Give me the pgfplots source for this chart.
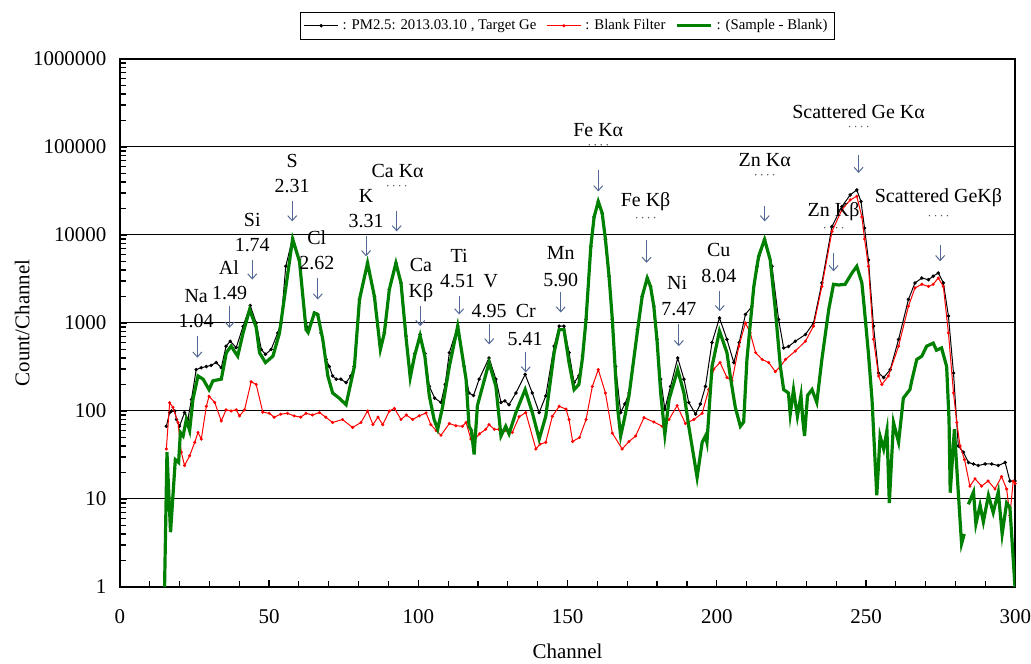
\documentclass[border=0pt]{standalone}
\usepackage{fontspec}
\setmainfont{Liberation Serif}
\usepackage{pgfplots}
\pgfplotsset{compat=1.18}
\usetikzlibrary{arrows.meta}
\definecolor{sgreen}{RGB}{0,128,0}
\definecolor{arrowc}{RGB}{85,105,150}
\tikzset{
  lbl/.style={font=\fontsize{10}{12}\selectfont, inner sep=0pt},
  arr/.style={arrowc, line width=0.5pt, -{Straight Barb[length=2.5pt,width=4.5pt]}},
}
% row of small dots under a label
\newcommand\dotrow[2]{%
  \fill[gray!70!black] ([xshift=-4.5pt]rel axis cs:#1,#2) circle (0.4pt);
  \fill[gray!70!black] ([xshift=-1.5pt]rel axis cs:#1,#2) circle (0.4pt);
  \fill[gray!70!black] ([xshift=1.5pt]rel axis cs:#1,#2) circle (0.4pt);
  \fill[gray!70!black] ([xshift=4.5pt]rel axis cs:#1,#2) circle (0.4pt);
}

\begin{document}
\begin{tikzpicture}
\begin{axis}[name=ax, scale only axis, width=448.5pt, height=264.5pt,
  xmin=0, xmax=300, ymin=1, ymax=1000000, ymode=log,
  xtick={0,50,100,150,200,250,300},
  xticklabels={0,50,100,150,200,250,300},
  minor x tick num=4,
  ytick={1,10,100,1000,10000,100000,1000000},
  yticklabels={1,10,100,1000,10000,100000,1000000},
  minor ytick={2,3,4,5,6,7,8,9,20,30,40,50,60,70,80,90,200,300,400,500,600,700,800,900,
    2000,3000,4000,5000,6000,7000,8000,9000,20000,30000,40000,50000,60000,70000,80000,90000,
    200000,300000,400000,500000,600000,700000,800000,900000},
  ymajorgrids, grid style={black, line width=0.5pt},
  axis line style={line width=0.9pt},
  tick style={black, line width=0.6pt},
  major tick length=3.5pt, minor tick length=3pt,
  xtick pos=left, ytick pos=left,
  tick label style={font=\fontsize{10.5}{12}\selectfont},
  xticklabel style={inner xsep=0pt, yshift=-8pt},
  yticklabel style={inner xsep=0pt, xshift=-6.5pt},
  xlabel={Channel}, ylabel={Count/Channel},
  label style={font=\fontsize{10.5}{12}\selectfont},
  x label style={at={(axis description cs:0.5,-0.122)}, anchor=center, inner sep=0pt},
  y label style={at={(axis description cs:-0.109,0.5)}, anchor=center},
  legend style={at={(0.5,1)}, anchor=south, yshift=9.5pt, legend columns=3,
    draw=black, line width=0.6pt, font=\fontsize{7.4}{9}\selectfont, inner sep=1.5pt,
    /tikz/every even column/.append style={column sep=3pt}},
  legend cell align=left,
  clip mode=individual,
]
\addplot[black, line width=0.5pt, mark=*, mark size=0.6pt] coordinates {
(15.6,67) (16.7,96) (17.3,100) (18.4,100) (19,80) (20,67) (21.7,96) (22.8,80) (24,135) (25.6,295)
(27.3,310) (29,320) (30.6,330) (32.3,355) (34,310) (35.6,545) (37,620) (39,525) (41.3,915) (43.7,1580)
(45.7,1000) (47.4,500) (48.8,440) (50.7,500) (52.9,770) (54,1000) (55.6,4400) (57.9,9200) (60.2,5200) (62.4,1000)
(63.1,860) (65.2,1300) (66.3,1250) (67.4,770) (69.1,385) (70.2,320) (71.3,250) (72.5,230) (74.1,230) (75.8,210)
(77.4,250) (78.5,320) (80.3,1850) (83,4800) (85.3,2000) (87.3,545) (88.6,780) (90.3,2400) (92.5,4800) (94.2,2850)
(95.9,710) (97.3,270) (98.8,450) (100.6,740) (102.2,450) (103.7,190) (105.5,140) (107.6,125) (109,200) (110.4,460)
(113.2,920) (115.4,320) (117,160) (118.5,150) (120.4,230) (123.7,400) (126,230) (127.7,125) (129,130) (130.4,118)
(132.7,160) (135.8,260) (138.2,160) (140.5,96) (142.7,148) (145.5,545) (147.2,920) (148.8,920) (150.5,460) (152.2,210)
(153.8,250) (155,420) (156.2,1100) (157.8,7400) (158.9,16000) (160.3,24000) (161.6,17700) (162.7,8900) (163.9,3400) (165,1100)
(166.1,320) (167.8,96) (169.2,120) (170.6,160) (173.4,840) (175,2000) (176.7,3240) (177.8,2600) (178.9,1550) (180,650)
(181.2,230) (182.6,105) (184.5,190) (186.9,400) (189,230) (190.6,125) (192.9,92) (194.5,120) (196.2,190) (198.4,600)
(200.9,1140) (203.4,650) (205.7,355) (207.5,600) (209.6,1250) (211.8,1550) (213.5,4400) (216,8900) (218.5,4400) (220.7,1100)
(222.4,520) (224,540) (226.3,620) (229.7,740) (232.4,1000) (235.2,2850) (238.6,12500) (241.9,21000) (244.7,28500) (246.9,32500)
(248.3,24000) (249.5,12000) (250.8,5200) (252.5,920) (254.2,270) (255.9,240) (258.1,295) (260.9,650) (264.2,1850) (266.4,2850)
(268.7,3240) (270.9,3100) (272.5,3400) (274.2,3700) (275.9,2850) (277.6,1200) (279.3,270) (280.9,40) (282.6,34) (284.3,26)
(286,25) (287.6,24) (289.9,25) (292.1,25) (294.3,24) (296.6,26) (298.2,16) (299.9,16)
};
\addlegendentry{: PM2.5: 2013.03.10 , Target Ge}
\addplot[red, line width=0.5pt, mark=*, mark size=0.5pt] coordinates {
(15.6,37) (16.7,124) (17.8,110) (19.5,74) (20.6,34) (21.7,24) (23.4,31) (25.1,44) (26.2,57) (27.3,48)
(29,113) (29.9,147) (31.8,125) (34,77) (35.6,103) (37.3,100) (39,103) (40.1,88) (41.8,103) (44,215)
(45.7,200) (47.9,97) (50.1,94) (51.7,85) (53.9,92) (56.2,94) (58.4,88) (60.6,85) (62.4,94) (64.5,90)
(66.9,96) (69,85) (71.3,74) (74.6,80) (78,65) (80.8,74) (83,100) (84.8,70) (86.5,85) (88.1,70)
(90.3,100) (92,107) (94.2,80) (96,90) (98.1,80) (100.3,88) (102.6,95) (104.2,70) (106,60) (107.6,53)
(110.4,72) (112.6,68) (114.8,67) (116,74) (117.6,48) (118.8,47) (120.5,55) (122.6,62) (123.7,70) (125.5,62)
(127,62) (129,60) (131.5,57) (133.8,86) (136,96) (139.4,37) (140.8,42) (142.7,44) (144.9,87) (147.2,113)
(149.5,105) (150.5,80) (151.7,45) (154,50) (156.2,80) (158.3,190) (160.3,295) (162.7,160) (165,56) (168.3,37)
(170.6,45) (172.8,52) (175.6,84) (178.9,75) (181.7,67) (184,80) (186.7,115) (189.5,72) (192.3,80) (195.1,94)
(197.3,175) (199,300) (201.1,355) (203.4,240) (205.1,220) (207.4,545) (209.6,1000) (211.2,770) (213,460) (215.2,385)
(217.4,355) (219.6,280) (221.3,320) (223,385) (226.3,480) (229.7,620) (232.4,920) (235.2,2600) (238.6,11000) (241.9,19300)
(244.7,25000) (246.9,27500) (248.6,16000) (249.5,9000) (250.8,4400) (252.5,650) (254.2,250) (255.3,200) (257.5,250) (260.9,545)
(264.2,1550) (266.4,2500) (268.7,2750) (270.9,2600) (272.5,2750) (274.2,3240) (275.9,2600) (277.6,770) (279.3,160) (280.4,74)
(281.5,40) (283,28) (284.8,14) (286.5,17) (288.7,14) (290.9,16) (293.2,13) (295.4,18) (297.1,13) (298.2,6.5)
(299.3,16) (300,15)
};
\addlegendentry{: Blank Filter}
\addplot[sgreen, line width=1.6pt] coordinates {
(15,1) (15.8,34) (17,4.2) (18.6,28) (19.7,26) (20.3,57) (21.2,52) (22.3,80) (23.4,60) (24.5,135)
(26.2,250) (27.9,230) (29.9,175) (31.2,220) (34,230) (35.7,460) (37.3,545) (39.5,420) (41.3,770) (43.5,1420)
(45.7,890) (46.8,460) (48.8,355) (51.3,420) (53.5,770) (55.2,2000) (57.9,9000) (60.2,5000) (62.4,840) (63.1,780)
(65.2,1300) (66.3,1250) (68,650) (69.7,250) (71.3,160) (73.5,140) (75.8,118) (78.6,320) (80.3,1850) (83,4800)
(85.3,2000) (87.3,500) (88.6,760) (90.3,2400) (92.5,4800) (94.2,2850) (95.9,680) (97.3,240) (98.8,430) (100.6,720)
(102.2,420) (103.7,148) (105.3,80) (106.5,62) (108.1,110) (110.4,320) (113.2,920) (116,230) (117,67) (117.8,60)
(118.7,32) (119.8,115) (123.7,355) (126,190) (127.7,52) (129.3,67) (130.4,55) (132.7,96) (135.8,175) (138.2,96)
(140.5,48) (142.7,87) (145.5,460) (147.2,840) (148.8,840) (150.5,355) (152.2,175) (153.8,200) (155,400) (156.2,1100)
(157.8,7400) (158.9,16000) (160.3,24000) (161.6,17700) (162.7,8900) (163.9,3400) (165,1100) (166.1,250) (166.7,115) (167.8,52)
(169,80) (170.6,150) (173.4,800) (175,2000) (176.7,3240) (177.8,2600) (178.9,1550) (180,620) (181.2,160) (182.6,54)
(184,135) (186.9,295) (189,160) (190.6,67) (192.3,30) (193.4,17.6) (195.1,44) (196.2,52) (196.7,44) (198.4,320)
(200.9,810) (203.4,460) (204.5,250) (206.2,110) (207.9,67) (209,75) (210.1,385) (212.4,2600) (214,5700) (216,8900)
(217.9,5200) (219.6,1420) (221.3,320) (222.4,175) (224,160) (224.6,92) (225.7,175) (227,87) (228.2,150) (228.8,80)
(229.4,52) (230.4,150) (231.9,175) (233.5,125) (235.2,385) (237.5,1420) (239.1,2750) (240.8,2700) (243,2750) (245.3,3700)
(246.9,4400) (248.6,2850) (249.4,1500) (250.8,450) (252,135) (253.6,11) (254.7,52) (255.9,37) (257,60) (257.8,9)
(259.2,74) (260.9,44) (262.5,140) (264.7,175) (265.3,220) (267,385) (268.7,420) (270.3,545) (272.5,590) (273.6,490)
(275.3,520) (277,320) (277.8,80) (278.2,11.8) (279.6,62) (280.9,12) (282,3.1) (282.9,4)
};
\addlegendentry{: (Sample - Blank)}
\addplot[sgreen, line width=1.6pt, forget plot] coordinates {
(284.3,8.7) (286,12) (286.8,5.2) (288.2,8.5) (289.3,5.5) (291,11) (292.6,7) (294.3,12) (295.6,4) (297.1,9)
(298.2,8) (299.9,1)
};

% peak labels
\node[lbl] at (rel axis cs:0.0853,0.5507) {Na};
\node[lbl] at (rel axis cs:0.0853,0.5034) {1.04};
\draw[arr] (rel axis cs:0.0866,0.4750) -- (rel axis cs:0.0866,0.4342);
\node[lbl] at (rel axis cs:0.1219,0.6043) {Al};
\node[lbl] at (rel axis cs:0.1226,0.5571) {1.49};
\draw[arr] (rel axis cs:0.1226,0.5318) -- (rel axis cs:0.1226,0.4909);
\node[lbl] at (rel axis cs:0.1479,0.6957) {Si};
\node[lbl] at (rel axis cs:0.1479,0.6484) {1.74};
\draw[arr] (rel axis cs:0.1479,0.6200) -- (rel axis cs:0.1479,0.5822);
\node[lbl] at (rel axis cs:0.1925,0.8059) {S};
\node[lbl] at (rel axis cs:0.1925,0.7586) {2.31};
\draw[arr] (rel axis cs:0.1925,0.7302) -- (rel axis cs:0.1925,0.6924);
\node[lbl] at (rel axis cs:0.2200,0.6611) {Cl};
\node[lbl] at (rel axis cs:0.2200,0.6138) {2.62};
\draw[arr] (rel axis cs:0.2211,0.5860) -- (rel axis cs:0.2211,0.5444);
\node[lbl] at (rel axis cs:0.2750,0.7397) {K};
\node[lbl] at (rel axis cs:0.2750,0.6924) {3.31};
\draw[arr] (rel axis cs:0.2750,0.6641) -- (rel axis cs:0.2750,0.6263);
\node[lbl] at (rel axis cs:0.3103,0.7870) {Ca Kα};
\dotrow{0.3092}{0.7600}
\draw[arr] (rel axis cs:0.3092,0.7113) -- (rel axis cs:0.3092,0.6735);
\node[lbl] at (rel axis cs:0.3363,0.6106) {Ca};
\node[lbl] at (rel axis cs:0.3363,0.5571) {Kβ};
\draw[arr] (rel axis cs:0.3356,0.5318) -- (rel axis cs:0.3356,0.4940);
\node[lbl] at (rel axis cs:0.3790,0.6263) {Ti};
\node[lbl] at (rel axis cs:0.3772,0.5790) {4.51};
\node[lbl] at (rel axis cs:0.4144,0.5790) {V};
\draw[arr] (rel axis cs:0.3790,0.5507) -- (rel axis cs:0.3790,0.5161);
\node[lbl] at (rel axis cs:0.4125,0.5223) {4.95};
\draw[arr] (rel axis cs:0.4125,0.4972) -- (rel axis cs:0.4125,0.4594);
\node[lbl] at (rel axis cs:0.4534,0.5223) {Cr};
\node[lbl] at (rel axis cs:0.4527,0.4701) {5.41};
\draw[arr] (rel axis cs:0.4534,0.4442) -- (rel axis cs:0.4534,0.4064);
\node[lbl] at (rel axis cs:0.4924,0.6327) {Mn};
\node[lbl] at (rel axis cs:0.4924,0.5822) {5.90};
\draw[arr] (rel axis cs:0.4924,0.5577) -- (rel axis cs:0.4924,0.5198);
\node[lbl] at (rel axis cs:0.5343,0.8658) {Fe Kα};
\dotrow{0.5343}{0.8374}
\draw[arr] (rel axis cs:0.5343,0.7902) -- (rel axis cs:0.5343,0.7491);
\node[lbl] at (rel axis cs:0.5872,0.7303) {Fe Kβ};
\dotrow{0.5872}{0.6994}
\draw[arr] (rel axis cs:0.5883,0.6578) -- (rel axis cs:0.5883,0.6138);
\node[lbl] at (rel axis cs:0.6224,0.5760) {Ni};
\node[lbl] at (rel axis cs:0.6243,0.5255) {7.47};
\draw[arr] (rel axis cs:0.6243,0.4972) -- (rel axis cs:0.6243,0.4561);
\node[lbl] at (rel axis cs:0.6689,0.6389) {Cu};
\node[lbl] at (rel axis cs:0.6689,0.5885) {8.04};
\draw[arr] (rel axis cs:0.6700,0.5601) -- (rel axis cs:0.6700,0.5223);
\node[lbl] at (rel axis cs:0.7202,0.8091) {Zn Kα};
\dotrow{0.7202}{0.7807}
\draw[arr] (rel axis cs:0.7202,0.7208) -- (rel axis cs:0.7202,0.6924);
\node[lbl] at (rel axis cs:0.8250,0.9004) {Scattered Ge Kα};
\dotrow{0.8250}{0.8720}
\draw[arr] (rel axis cs:0.8250,0.8185) -- (rel axis cs:0.8250,0.7839);
\node[lbl] at (rel axis cs:0.7971,0.7113) {Zn Kβ};
\dotrow{0.7971}{0.6805}
\draw[arr] (rel axis cs:0.7971,0.6333) -- (rel axis cs:0.7971,0.5979);
\node[lbl] at (rel axis cs:0.9142,0.7367) {Scattered GeKβ};
\dotrow{0.9142}{0.7032}
\draw[arr] (rel axis cs:0.9161,0.6484) -- (rel axis cs:0.9161,0.6168);
\end{axis}
\path ([xshift=-60pt,yshift=-38.5pt]ax.south west) rectangle ([xshift=7pt,yshift=29.5pt]ax.north east);
\end{tikzpicture}
\end{document}
